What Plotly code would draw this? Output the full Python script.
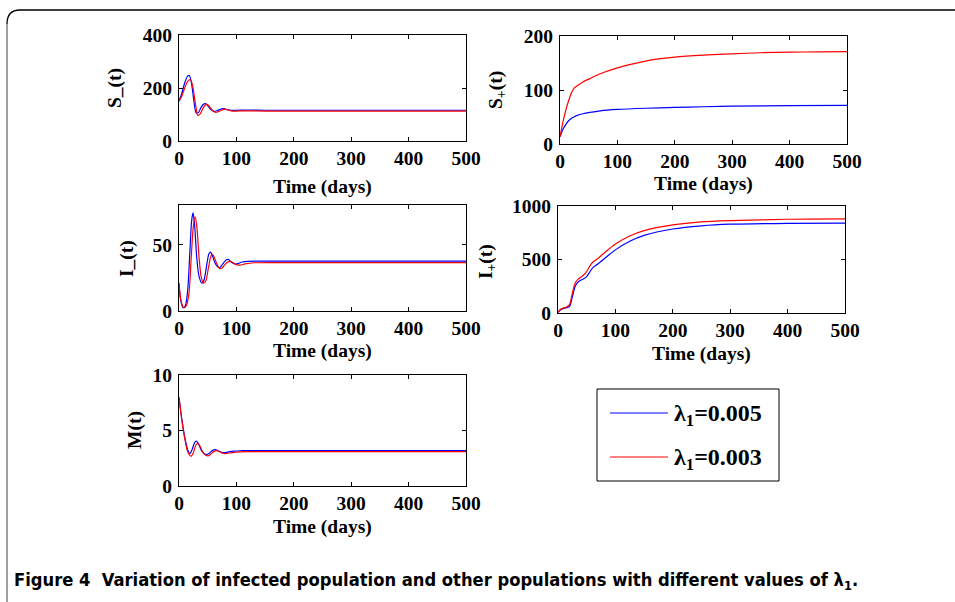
import plotly.graph_objects as go

W, H = 955, 602

# ---------------- data ----------------
series_names = ["λ<sub>1</sub>=0.005", "λ<sub>1</sub>=0.003"]
series_colors = ["#0000ff", "#ff0000"]

# S_-(t)
sm_t_a = [0, 5, 10, 15, 18, 22, 26, 30, 34, 38, 42, 46, 50, 55, 61, 66, 71, 77, 83, 90, 100, 120, 150, 200, 300, 400, 500]
sm_v_a = [150, 180, 220, 245, 247, 215, 150, 106, 108, 125, 138, 141, 134, 120, 112, 114, 119, 122, 119, 116, 116, 117, 116, 116, 116, 116, 116]
sm_t_b = [0, 5, 10, 15, 20, 24, 28, 33, 37, 41, 45, 49, 53, 58, 64, 69, 75, 80, 86, 93, 100, 120, 150, 200, 300, 400, 500]
sm_v_b = [150, 170, 200, 225, 231, 205, 150, 96, 102, 120, 134, 138, 130, 116, 108, 111, 117, 120, 117, 113, 113, 114, 113, 113, 113, 113, 113]

# S_+(t)
sp_t_a = [0, 5, 10, 15, 20, 25, 30, 40, 52, 70, 100, 150, 200, 250, 300, 400, 500]
sp_v_a = [13.5, 27, 36, 43, 47.5, 50.5, 53, 56, 58.5, 61.5, 64, 66.2, 67.7, 69, 70, 71, 71.4]
sp_t_b = [0, 5, 10, 15, 20, 25, 30, 40, 52, 70, 100, 125, 151, 175, 200, 250, 300, 350, 400, 450, 500]
sp_v_b = [13.5, 40, 62, 80, 95, 104, 108, 115, 121, 130, 141, 148, 154, 158, 161, 164.5, 167, 169, 170, 170.7, 171]

# I_-(t)
im_t_a = [0, 3, 7, 11, 15, 19, 22, 24.5, 27, 31, 35, 40, 44, 48, 52, 55, 58, 63, 68, 72, 77, 82, 86, 91, 97, 103, 110, 120, 150, 200, 300, 400, 500]
im_v_a = [21, 8, 2.5, 4, 15, 45, 68, 74, 66, 40, 26, 21, 24, 34, 43, 44.5, 42, 36, 33, 33, 36, 38.5, 39, 37, 35.5, 35.8, 37, 37.5, 37.6, 37.6, 37.7, 37.7, 37.7]
im_t_b = [0, 3, 8, 12, 17, 21, 25, 28, 31, 35, 39, 43, 47, 51, 55, 58, 61, 66, 71, 75, 80, 85, 89, 94, 100, 106, 115, 130, 200, 300, 400, 500]
im_v_b = [21, 9, 2.5, 3.5, 12, 38, 64, 71, 64, 40, 25, 21, 23, 32, 40.5, 43, 41, 35.5, 32, 32.5, 35, 37, 37.5, 36.5, 35, 34.6, 35.5, 36.4, 36.5, 36.5, 36.5, 36.5]

# I_+(t)
ip_t_a = [0, 5, 15, 20, 25, 30, 35, 40, 45, 50, 55, 60, 70, 80, 100, 125, 150, 200, 250, 300, 400, 500]
ip_v_a = [5, 33, 50, 60, 150, 250, 290, 307, 320, 340, 380, 420, 460, 505, 590, 670, 725, 785, 815, 830, 838, 840]
ip_t_b = [0, 5, 15, 20, 25, 30, 35, 40, 45, 50, 55, 60, 70, 80, 100, 125, 150, 200, 250, 300, 400, 500]
ip_v_b = [5, 37, 56, 78, 186, 280, 317, 335, 357, 388, 435, 472, 512, 559, 646, 720, 770, 823, 851, 863, 876, 879]

# M(t)
m_t_a = [0, 5, 10, 15, 19, 23, 27, 30, 34, 39, 44, 48, 53, 58, 63, 68, 73, 78, 85, 95, 110, 150, 300, 500]
m_v_a = [8.0, 6.0, 4.4, 3.3, 2.92, 3.3, 3.9, 4.04, 3.8, 3.2, 2.9, 2.83, 2.95, 3.2, 3.28, 3.18, 3.05, 3.0, 3.05, 3.15, 3.18, 3.19, 3.19, 3.19]
m_t_b = [0, 5, 10, 15, 21, 25, 29, 32.5, 36, 41, 46, 50.5, 55, 61, 66, 71, 76, 81, 88, 100, 120, 150, 300, 500]
m_v_b = [8.0, 5.9, 4.3, 3.1, 2.68, 3.0, 3.65, 3.83, 3.65, 3.1, 2.8, 2.71, 2.85, 3.12, 3.19, 3.08, 2.95, 2.92, 2.97, 3.05, 3.09, 3.1, 3.1, 3.1]

x_ticks = [0, 100, 200, 300, 400, 500]
panels = [
    # (ylabel, yrange, yticks, data_a, data_b)
    ("S_(t)", [0, 400], [0, 200, 400], (sm_t_a, sm_v_a), (sm_t_b, sm_v_b)),
    ("S<sub>+</sub>(t)", [0, 200], [0, 100, 200], (sp_t_a, sp_v_a), (sp_t_b, sp_v_b)),
    ("I_(t)", [0, 80], [0, 50], (im_t_a, im_v_a), (im_t_b, im_v_b)),
    ("I<sub>+</sub>(t)", [0, 1000], [0, 500, 1000], (ip_t_a, ip_v_a), (ip_t_b, ip_v_b)),
    ("M(t)", [0, 10], [0, 5, 10], (m_t_a, m_v_a), (m_t_b, m_v_b)),
]
caption = "Figure 4\u00a0\u00a0Variation of infected population and other populations with different values of λ<sub>1</sub>."

# ---------------- layout (pixel boxes) ----------------
boxes = [  # x0, x1, y0(top), y1(bottom)
    (179, 466, 35, 141),
    (560, 847, 36, 144),
    (179, 466, 205, 311),
    (558, 845, 206, 313),
    (179, 466, 375, 486),
]
ylab_pos = [(115, 88), (497, 90), (127, 258), (487, 262), (135, 430)]
xtitle_y = [187, 184, 351, 354, 527]

def px(x):
    return x / W

def py(y):
    return 1 - y / H

serif = "Liberation Serif, Times New Roman, serif"
fig = go.Figure()
layout = dict(
    width=W, height=H, margin=dict(l=0, r=0, t=0, b=0, pad=0, autoexpand=False),
    paper_bgcolor="white", plot_bgcolor="white", showlegend=False,
    annotations=[], shapes=[],
)

for i, (ylab, yr, yt, da, db) in enumerate(panels):
    n = "" if i == 0 else str(i + 1)
    x0, x1, y0, y1 = boxes[i]
    for (tt, vv), col, name in zip([da, db], series_colors, series_names):
        fig.add_trace(go.Scatter(
            x=tt, y=vv, mode="lines", name=name,
            line=dict(color=col, width=1.2, shape="spline", smoothing=0.8),
            xaxis="x" + n, yaxis="y" + n, showlegend=False))
    common = dict(showline=True, linecolor="black", linewidth=1, mirror="ticks", automargin=False,
                  ticks="inside", ticklen=4, tickcolor="black", showgrid=False, zeroline=False,
                  tickfont=dict(family=serif, size=19.5, color="black", weight="bold"))
    layout["xaxis" + n] = dict(common, domain=[px(x0), px(x1)], range=[0, 500],
                               tickvals=x_ticks, anchor="y" + n, ticklabelstandoff=0)
    layout["yaxis" + n] = dict(common, domain=[py(y1), py(y0)], range=yr,
                               tickvals=yt, anchor="x" + n, ticklabelstandoff=2)
    lx, ly = ylab_pos[i]
    layout["annotations"].append(dict(
        text="<b>" + ylab + "</b>", x=px(lx), y=py(ly), xref="paper", yref="paper",
        textangle=-90, showarrow=False, xanchor="center", yanchor="middle",
        font=dict(family=serif, size=19.5, color="black")))
    layout["annotations"].append(dict(
        text="<b>Time (days)</b>", x=px((x0 + x1) / 2), y=py(xtitle_y[i]), xref="paper", yref="paper",
        showarrow=False, xanchor="center", yanchor="middle",
        font=dict(family=serif, size=19.5, color="black")))

# legend box (custom)
lb = (597, 779, 389, 481)
layout["shapes"].append(dict(type="rect", xref="paper", yref="paper",
                             x0=px(lb[0]), x1=px(lb[1]), y0=py(lb[3]), y1=py(lb[2]),
                             line=dict(color="black", width=1), fillcolor="white"))
for k, (col, name) in enumerate(zip(series_colors, series_names)):
    yy = [413, 457][k]
    layout["shapes"].append(dict(type="line", xref="paper", yref="paper",
                                 x0=px(610), x1=px(668), y0=py(yy), y1=py(yy),
                                 line=dict(color=col, width=1)))
    layout["annotations"].append(dict(
        text="<b>" + name + "</b>", x=px(672), y=py(yy + 2), xref="paper", yref="paper",
        showarrow=False, xanchor="left", yanchor="middle",
        font=dict(family=serif, size=24, color="black")))

# frame
layout["shapes"].append(dict(type="path", xref="paper", yref="paper",
                             path=f"M {px(7)},{py(24)} Q {px(7)},{py(10)} {px(20)},{py(10)} L {px(955)},{py(10)}",
                             line=dict(color="black", width=1.3)))
layout["shapes"].append(dict(type="line", xref="paper", yref="paper",
                             x0=px(7), x1=px(7), y0=py(24), y1=py(602),
                             line=dict(color="#808080", width=1.5)))

# caption
layout["annotations"].append(dict(
    text="<b>" + caption + "</b>", x=px(12), y=py(581), xref="paper", yref="paper",
    showarrow=False, xanchor="left", yanchor="middle",
    font=dict(family="Liberation Sans Narrow, DejaVu Sans Condensed, Arial Narrow, sans-serif", size=18.2, color="black")))

fig.update_layout(**layout)
fig.write_html(
    "out.html",
    config={"displayModeBar": False},
    post_script="document.body.style.margin='0px';document.body.style.overflow='hidden';",
)
